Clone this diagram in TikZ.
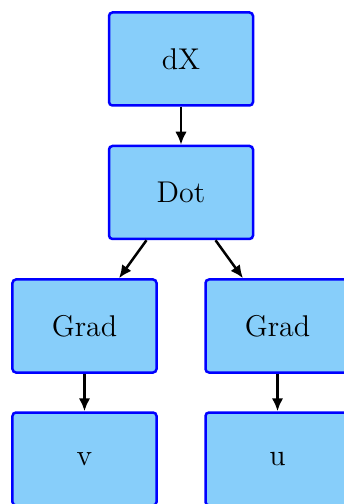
\documentclass[tikz,border=0pt]{standalone}
\usetikzlibrary{arrows.meta}
\definecolor{boxfill}{HTML}{87CEFA}
\definecolor{boxline}{HTML}{0000FF}
\begin{document}
\begin{tikzpicture}[x=0.4pt,y=-0.4pt,
  opbox/.style={draw=boxline,fill=boxfill,line width=1pt,rounded corners=1.4pt,
    minimum width=57.6pt,minimum height=37.2pt,inner sep=0pt,font=\large},
  conn/.style={-{Latex[length=5.2pt,width=4.6pt]},line width=1pt,black}]
\useasboundingbox (0,0) rectangle (344,504);
\clip (0,0) rectangle (344,504);
\node[opbox] (dx) at (181,59) {dX};
\node[opbox] (dot) at (181,192.5) {Dot};
\node[opbox] (gl) at (84.5,326) {Grad};
\node[opbox] (gr) at (277.5,326) {Grad};
\node[opbox] (v) at (84.5,459) {v};
\node[opbox] (u) at (277.5,459) {u};
\draw[conn] (dx) -- (dot);
\draw[conn] (dot) -- (gl);
\draw[conn] (dot) -- (gr);
\draw[conn] (gl) -- (v);
\draw[conn] (gr) -- (u);
\end{tikzpicture}
\end{document}
